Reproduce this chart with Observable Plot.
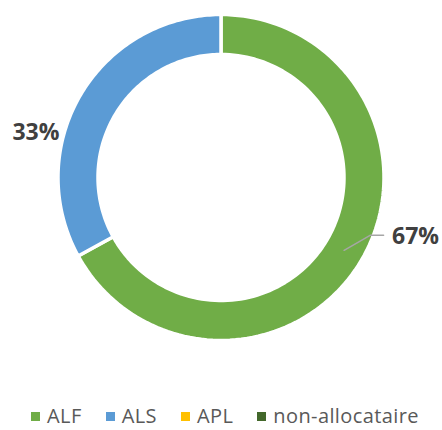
<!DOCTYPE html>
<html>
<head>
<meta charset="utf-8">
<script src="https://cdn.jsdelivr.net/npm/d3@7"></script>
<script src="https://cdn.jsdelivr.net/npm/@observablehq/plot@0.6"></script>
<style>
  html, body { margin: 0; padding: 0; background: #fff; overflow: hidden; }
  #chart { width: 442px; height: 430px; }
  .legend { box-sizing: border-box; width: 442px; height: 30px; padding: 4px 0 0 8px; text-align: center; white-space: nowrap;
            font-family: "Open Sans", sans-serif; font-size: 20px; letter-spacing: 0.4px; line-height: 24px; color: #595959; }
  .legend .item { display: inline-block; margin: 0 12px; }
  .legend .sw { display: inline-block; width: 9px; height: 9px; margin-right: 7px; vertical-align: 2.5px; }
</style>
</head>
<body>
<div id="chart"></div>
<script>
// ---- data ----
const categories = ["ALF", "ALS", "APL", "non-allocataire"];
const values = [67, 33, 0, 0];
const labels = ["67%", "33%", "", ""];
const colors = ["#70AD47", "#5B9BD5", "#FFC000", "#43682B"];

// ---- layout ----
const W = 442, H = 400;
const cx = 220.5, cy = 177, R = 163, r = 123;
const labelOffsets = { right: [71.5, -14], left: [-62, 28] };
const leaderOffsets = [[0, 0], [26, -15], [39.5, -15]];

const pie = d3.pie().sort(null).value(d => d)(values);

const ring = [];
pie.forEach((p, i) => {
  if (values[i] <= 0) return;
  const n = 120;
  for (let k = 0; k <= n; k++) {
    const a = p.startAngle + (p.endAngle - p.startAngle) * k / n;
    ring.push({ key: i, cat: categories[i], x: cx + R * Math.sin(a), y: cy - R * Math.cos(a) });
  }
  for (let k = n; k >= 0; k--) {
    const a = p.startAngle + (p.endAngle - p.startAngle) * k / n;
    ring.push({ key: i, cat: categories[i], x: cx + r * Math.sin(a), y: cy - r * Math.cos(a) });
  }
});

const textRows = [];
const leader = [];
pie.forEach((p, i) => {
  if (!labels[i]) return;
  const m = (p.startAngle + p.endAngle) / 2;
  const rm = (R + r) / 2;
  const ax = cx + rm * Math.sin(m), ay = cy - rm * Math.cos(m);
  const side = Math.sin(m) >= 0 ? "right" : "left";
  const [dx, dy] = labelOffsets[side];
  textRows.push({ x: ax + dx, y: ay + dy, text: labels[i] });
  if (side === "right") {
    leaderOffsets.forEach(([ox, oy]) => leader.push({ x: ax + ox, y: ay + oy }));
  }
});

const chart = Plot.plot({
  width: W, height: H,
  margin: 0,
  x: { domain: [0, W], range: [0, W], axis: null },
  y: { domain: [0, H], range: [0, H], axis: null },
  color: { domain: categories, range: colors },
  style: { fontFamily: "'Open Sans', sans-serif", background: "white" },
  marks: [
    Plot.line(ring, { x: "x", y: "y", z: "key", fill: "cat", stroke: "white", strokeWidth: 3.5, curve: "linear-closed" }),
    Plot.line(leader, { x: "x", y: "y", stroke: "#A6A6A6", strokeWidth: 1.5 }),
    Plot.text(textRows, { x: "x", y: "y", text: "text", textAnchor: "middle", fontSize: 23, fontWeight: "bold", fill: "#404040" })
  ]
});
document.getElementById("chart").appendChild(chart);

const legend = document.createElement("div");
legend.className = "legend";
categories.forEach((c, i) => {
  const it = document.createElement("span");
  it.className = "item";
  const sw = document.createElement("span");
  sw.className = "sw";
  sw.style.background = colors[i];
  it.appendChild(sw);
  it.appendChild(document.createTextNode(c));
  legend.appendChild(it);
});
document.getElementById("chart").appendChild(legend);
</script>
</body>
</html>
